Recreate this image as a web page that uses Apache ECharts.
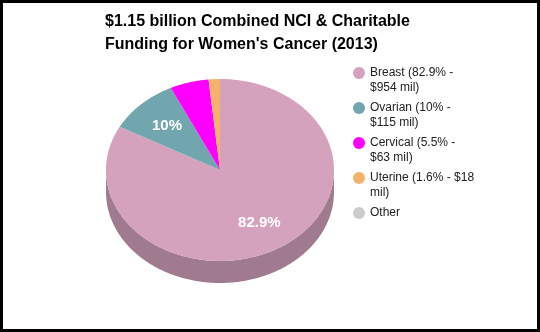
<!DOCTYPE html>
<html>
<head>
<meta charset="utf-8">
<script src="https://cdn.jsdelivr.net/npm/echarts@6/dist/echarts.min.js"></script>
<style>
html,body{margin:0;padding:0;background:#fff;}
#chart{width:540px;height:332px;}
</style>
</head>
<body>
<div id="chart"></div>
<script>
// ---- data ----
var categories = ['Breast', 'Ovarian', 'Cervical', 'Uterine', 'Other'];
var percents = [82.9, 10, 5.5, 1.6, 0];
var millions = [954, 115, 63, 18, null];
var colors = ['#d4a2bd', '#72a6ae', '#ff00ff', '#f6b26b', '#cccccc'];
var titleLines = ['$1.15 billion Combined NCI & Charitable', "Funding for Women's Cancer (2013)"];

// ---- layout ----
var CX = 220, CY = 170, RX = 114, RY = 91, DEPTH = 22;
var FONT = '"Liberation Sans", Arial, Helvetica, sans-serif';

function legendName(i) {
  if (millions[i] == null) return categories[i];
  return categories[i] + ' (' + percents[i] + '% - $' + millions[i] + ' mil)';
}
var total = percents.reduce(function (a, b) { return a + b; }, 0);
function darker(hex, f) {
  var n = parseInt(hex.slice(1), 16);
  var r = Math.round(((n >> 16) & 255) * f), g = Math.round(((n >> 8) & 255) * f), b = Math.round((n & 255) * f);
  return 'rgb(' + r + ',' + g + ',' + b + ')';
}
function pt(t, dy) {
  return [CX + RX * Math.sin(t), CY - RY * Math.cos(t) + (dy || 0)];
}

function makeRender(idx) {
  return function (params, api) {
    var v = api.value(0);
    if (!v) return null;
    var before = 0;
    for (var k = 0; k < idx; k++) before += percents[k];
    var a0 = before / total * Math.PI * 2;
    var a1 = (before + v) / total * Math.PI * 2;
    var children = [];
    // side wall (front half only)
    var s0 = Math.max(a0, Math.PI / 2), s1 = Math.min(a1, Math.PI * 1.5);
    if (s1 > s0) {
      var top = [], bot = [];
      var n = Math.max(2, Math.ceil((s1 - s0) / 0.01));
      for (var j = 0; j <= n; j++) {
        var t = s0 + (s1 - s0) * j / n;
        top.push(pt(t, 0));
        bot.push(pt(t, DEPTH));
      }
      children.push({
        type: 'polygon', z2: 1,
        shape: { points: top.concat(bot.reverse()) },
        style: { fill: darker(colors[idx], 0.755) }
      });
    }
    // top face
    var pts = [[CX, CY]];
    var m = Math.max(2, Math.ceil((a1 - a0) / 0.01));
    for (var i = 0; i <= m; i++) pts.push(pt(a0 + (a1 - a0) * i / m, 0));
    children.push({
      type: 'polygon', z2: 2,
      shape: { points: pts },
      style: { fill: colors[idx] }
    });
    // label
    if (v >= 8) {
      var mid = (a0 + a1) / 2;
      children.push({
        type: 'text', z2: 3,
        style: {
          text: v + '%',
          x: CX + RX * 0.675 * Math.sin(mid),
          y: CY - RY * 0.675 * Math.cos(mid),
          align: 'center', verticalAlign: 'middle',
          fill: '#ffffff', fontSize: 15, fontWeight: 'bold', fontFamily: FONT
        }
      });
    }
    return { type: 'group', children: children };
  };
}

var series = categories.map(function (c, i) {
  return {
    type: 'custom',
    name: legendName(i),
    coordinateSystem: 'none',
    itemStyle: { color: colors[i] },
    renderItem: makeRender(i),
    data: [[percents[i]]],
    silent: true
  };
});

var iconTop = 'path://M0,0 L0,0 M0,7.5 A6,6 0 1,1 12,7.5 A6,6 0 1,1 0,7.5 Z M0,30 L0,30';
var legendData = categories.map(function (c, i) {
  return { name: legendName(i), icon: iconTop };
});

var chart = echarts.init(document.getElementById('chart'), null, { renderer: 'canvas' });
chart.setOption({
  animation: false,
  title: {
    text: titleLines.join('\n'),
    left: 105, top: 10, padding: 0,
    textStyle: { fontFamily: FONT, fontSize: 16, fontWeight: 'bold', color: '#000', lineHeight: 23 }
  },
  legend: {
    orient: 'vertical', left: 353, top: 65.5, padding: 0,
    itemWidth: 12, itemHeight: 30, itemGap: 5,
    selectedMode: false,
    itemStyle: { borderWidth: 0 },
    formatter: function (name) {
      // single-line entries keep their text on the icon's row
      return name.indexOf('(') < 0 ? name + '\n ' : name;
    },
    textStyle: { fontFamily: FONT, fontSize: 12, lineHeight: 15, color: '#222', width: 108, overflow: 'break' },
    data: legendData
  },
  graphic: [{
    type: 'rect', z: 100, silent: true,
    shape: { x: 1.5, y: 1.5, width: 537, height: 329 },
    style: { fill: 'none', stroke: '#000', lineWidth: 3 }
  }],
  series: series
});
</script>
</body>
</html>
